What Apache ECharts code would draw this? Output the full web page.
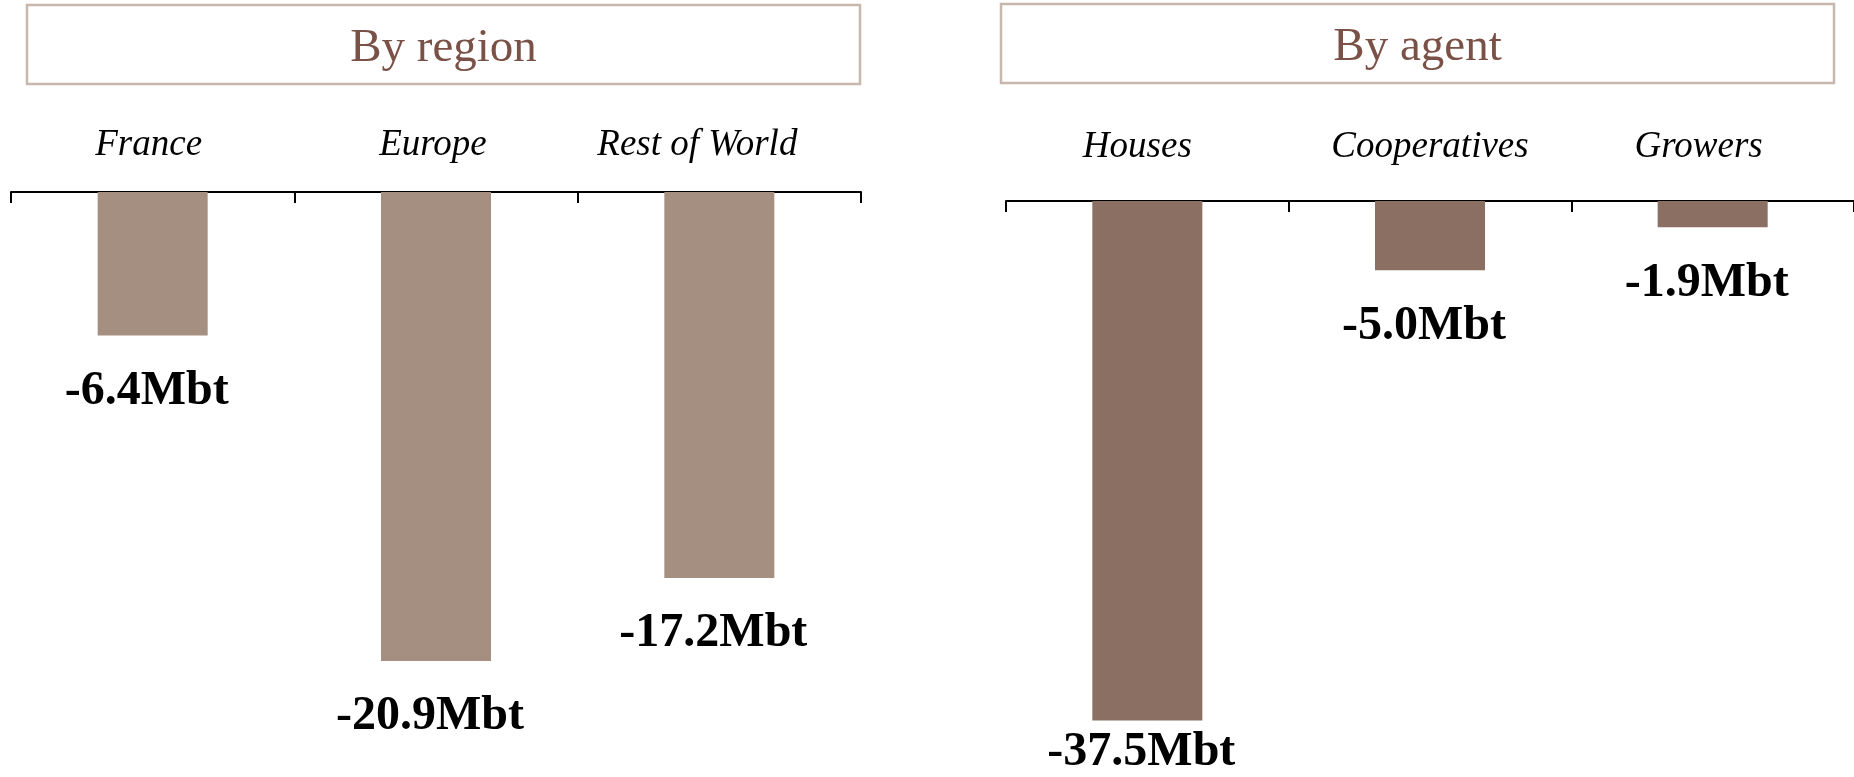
<!DOCTYPE html>
<html>
<head>
<meta charset="utf-8">
<title>By region / By agent</title>
<script src="https://cdn.jsdelivr.net/npm/echarts@6/dist/echarts.min.js"></script>
<style>
  html, body { margin: 0; padding: 0; background: #fff; }
  #chart { width: 1854px; height: 777px; }
</style>
</head>
<body>
<div id="chart"></div>
<script>
// values in Mbt
const regionTitle = 'By region'
const regionNames = ['France', 'Europe', 'Rest of World']
const regionValues = [-6.4, -20.9, -17.2]

const agentTitle = 'By agent'
const agentNames = ['Houses', 'Cooperatives', 'Growers']
const agentValues = [-37.5, -5.0, -1.9]

// labels in the source sit a little left of the band centres
const regionLabelShift = [4, 3, 22]
const agentLabelShift = [10, 0, 14]

const serif = '"Liberation Serif", "Times New Roman", serif'
const H = 777

const dom = echarts.init(document.getElementById('chart'))

function catAxis (gridIndex, names, shifts, margin) {
  return {
    type: 'category',
    gridIndex: gridIndex,
    position: 'top',
    data: names.map((n, i) => ({
      value: n,
      textStyle: { padding: [0, shifts[i] * 2, 0, 0] }
    })),
    axisLine: { lineStyle: { color: '#000', width: 2 } },
    axisTick: { show: true, inside: true, length: 11, lineStyle: { color: '#000', width: 2 } },
    axisLabel: {
      margin: margin,
      color: '#000',
      fontFamily: serif,
      fontStyle: 'italic',
      fontSize: 37
    },
    splitLine: { show: false }
  }
}

function valAxis (gridIndex, min) {
  return {
    type: 'value',
    gridIndex: gridIndex,
    min: min,
    max: 0,
    show: false,
    splitLine: { show: false }
  }
}

function barSeries (idx, values, color) {
  return {
    type: 'bar',
    xAxisIndex: idx,
    yAxisIndex: idx,
    data: values,
    barWidth: 110,
    itemStyle: { color: color },
    label: {
      show: true,
      position: 'bottom',
      distance: 32,
      color: '#000',
      fontFamily: serif,
      fontWeight: 'bold',
      fontSize: 48,
      formatter: p => p.value.toFixed(1) + 'Mbt'
    },
    // nudge left a bit, and keep the long bar's label inside the picture
    labelLayout: p => {
      const r = p.labelRect
      const over = r.y + r.height - H
      return { dx: -6, dy: over > 0 ? -over : 0 }
    }
  }
}

function titleBox (x, y, w, h, text) {
  return {
    type: 'group',
    children: [
      {
        type: 'rect',
        shape: { x: x, y: y, width: w, height: h },
        style: { fill: '#fff', stroke: '#c8b7ad', lineWidth: 2.5 }
      },
      {
        type: 'text',
        x: x + w / 2,
        y: y + h / 2 + 4,
        style: {
          text: text,
          fill: '#7a5146',
          font: '47px ' + serif,
          textAlign: 'center',
          textVerticalAlign: 'middle'
        }
      }
    ]
  }
}

const option = {
  animation: false,
  backgroundColor: '#fff',
  graphic: [
    titleBox(27, 5, 833, 79, regionTitle),
    titleBox(1001, 4, 833, 79, agentTitle)
  ],
  grid: [
    { left: 11, width: 850, top: 192, height: 561 },
    { left: 1006, right: 0, top: 201, height: 554 }
  ],
  xAxis: [
    catAxis(0, regionNames, regionLabelShift, 28),
    catAxis(1, agentNames, agentLabelShift, 35)
  ],
  yAxis: [
    valAxis(0, -25),
    valAxis(1, -40)
  ],
  series: [
    barSeries(0, regionValues, '#a58f81'),
    barSeries(1, agentValues, '#8a6f62')
  ]
}

dom.setOption(option)
window.addEventListener('resize', () => dom.resize())
</script>
</body>
</html>
